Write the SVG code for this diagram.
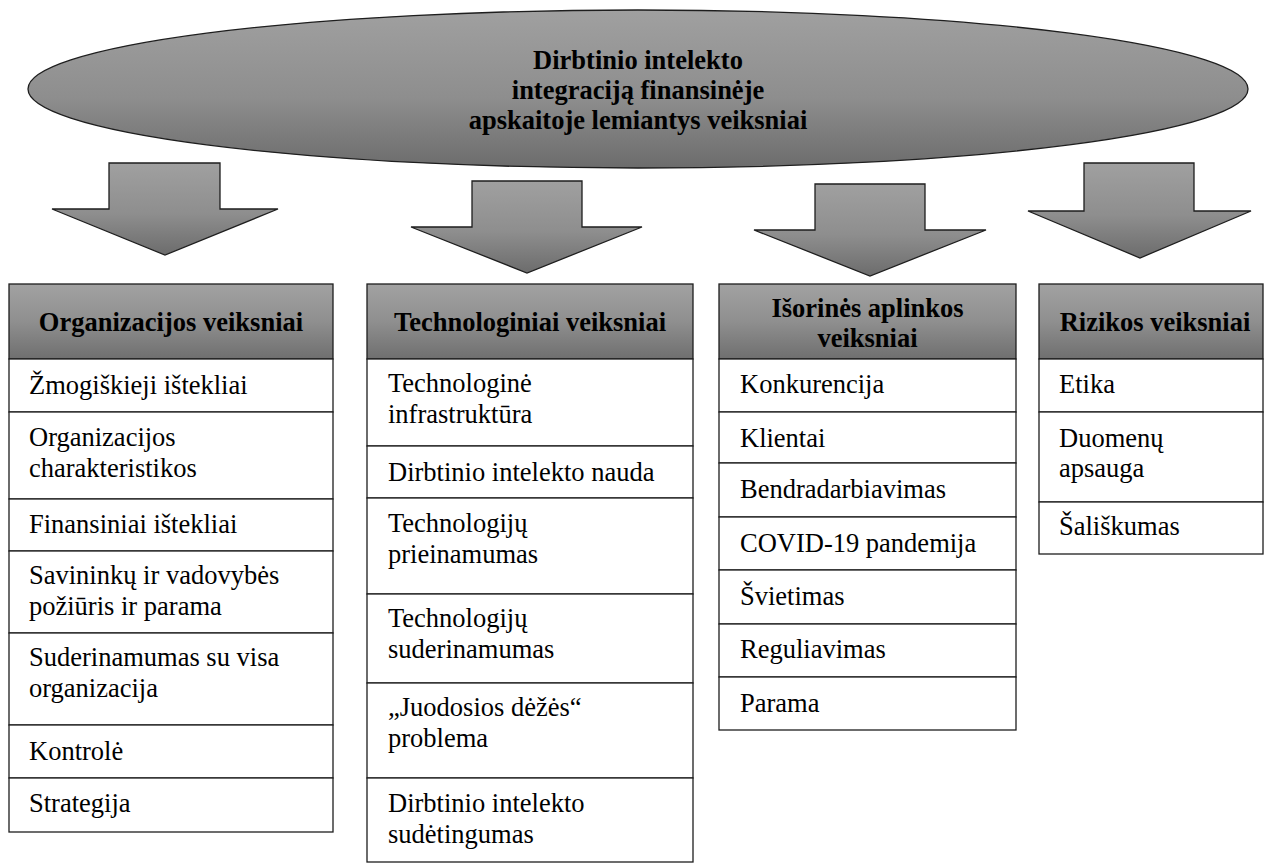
<svg xmlns="http://www.w3.org/2000/svg" width="1264" height="865" viewBox="0 0 1264 865">
<defs>
<linearGradient id="gShape" x1="0" y1="0" x2="0" y2="1">
<stop offset="0" stop-color="#a0a0a0"/>
<stop offset="0.55" stop-color="#8e8e8e"/>
<stop offset="1" stop-color="#6c6c6c"/>
</linearGradient>
<linearGradient id="gHead" x1="0" y1="0" x2="0" y2="1">
<stop offset="0" stop-color="#a2a2a2"/>
<stop offset="0.5" stop-color="#8f8f8f"/>
<stop offset="1" stop-color="#6f6f6f"/>
</linearGradient>
</defs>
<style>
.shape{fill:url(#gShape);stroke:#1e1e1e;stroke-width:1.3}
.head{fill:url(#gHead);stroke:#1e1e1e;stroke-width:1.3}
.cell{fill:#ffffff;stroke:#1e1e1e;stroke-width:1.3}
text{font-family:"Liberation Serif","Times New Roman",serif;font-size:26.5px;fill:#000}
.b{font-weight:bold}
.c{text-anchor:middle}
</style>
<rect width="1264" height="865" fill="#ffffff"/>

<g id="title">
<ellipse class="shape" cx="638" cy="89" rx="610" ry="79"/>
<text class="b c" x="638" y="69">Dirbtinio intelekto</text>
<text class="b c" x="638" y="99">integraciją finansinėje</text>
<text class="b c" x="638" y="129">apskaitoje lemiantys veiksniai</text>
</g>

<g id="connectors">
<polygon class="shape" points="109,163 220,163 220,209 278,209 165,255 52,209 109,209"/>
<polygon class="shape" points="472,181 582,181 582,227 642,227 527,273 411,227 472,227"/>
<polygon class="shape" points="815,184 925,184 925,230 986,230 870,276 754,230 815,230"/>
<polygon class="shape" points="1084,163 1194,163 1194,211 1251,211 1140,258 1028,211 1084,211"/>
</g>

<g id="org">
<rect class="head" x="9" y="284" width="324" height="75"/>
<text class="b c" x="171" y="331">Organizacijos veiksniai</text>
<rect class="cell" x="9" y="359" width="324" height="53"/>
<text x="29" y="394">Žmogiškieji ištekliai</text>
<rect class="cell" x="9" y="412" width="324" height="87"/>
<text x="29" y="446">Organizacijos</text>
<text x="29" y="477">charakteristikos</text>
<rect class="cell" x="9" y="499" width="324" height="52"/>
<text x="29" y="533">Finansiniai ištekliai</text>
<rect class="cell" x="9" y="551" width="324" height="82"/>
<text x="29" y="584">Savininkų ir vadovybės</text>
<text x="29" y="615">požiūris ir parama</text>
<rect class="cell" x="9" y="633" width="324" height="92"/>
<text x="29" y="666">Suderinamumas su visa</text>
<text x="29" y="697">organizacija</text>
<rect class="cell" x="9" y="725" width="324" height="53"/>
<text x="29" y="760">Kontrolė</text>
<rect class="cell" x="9" y="778" width="324" height="54"/>
<text x="29" y="812">Strategija</text>
</g>

<g id="tech">
<rect class="head" x="367" y="284" width="326" height="75"/>
<text class="b c" x="530" y="331">Technologiniai veiksniai</text>
<rect class="cell" x="367" y="359" width="326" height="87"/>
<text x="388" y="392">Technologinė</text>
<text x="388" y="423">infrastruktūra</text>
<rect class="cell" x="367" y="446" width="326" height="52"/>
<text x="388" y="481">Dirbtinio intelekto nauda</text>
<rect class="cell" x="367" y="498" width="326" height="96"/>
<text x="388" y="532">Technologijų</text>
<text x="388" y="563">prieinamumas</text>
<rect class="cell" x="367" y="594" width="326" height="89"/>
<text x="388" y="627">Technologijų</text>
<text x="388" y="658">suderinamumas</text>
<rect class="cell" x="367" y="683" width="326" height="95"/>
<text x="388" y="716">„Juodosios dėžės“</text>
<text x="388" y="747">problema</text>
<rect class="cell" x="367" y="778" width="326" height="84"/>
<text x="388" y="812">Dirbtinio intelekto</text>
<text x="388" y="843">sudėtingumas</text>
</g>

<g id="external">
<rect class="head" x="719" y="284" width="297" height="75"/>
<text class="b c" x="867.5" y="317">Išorinės aplinkos</text>
<text class="b c" x="867.5" y="347">veiksniai</text>
<rect class="cell" x="719" y="359" width="297" height="53"/>
<text x="740" y="393">Konkurencija</text>
<rect class="cell" x="719" y="412" width="297" height="51"/>
<text x="740" y="447">Klientai</text>
<rect class="cell" x="719" y="463" width="297" height="54"/>
<text x="740" y="498">Bendradarbiavimas</text>
<rect class="cell" x="719" y="517" width="297" height="53"/>
<text x="740" y="552">COVID-19 pandemija</text>
<rect class="cell" x="719" y="570" width="297" height="54"/>
<text x="740" y="605">Švietimas</text>
<rect class="cell" x="719" y="624" width="297" height="53"/>
<text x="740" y="658">Reguliavimas</text>
<rect class="cell" x="719" y="677" width="297" height="53"/>
<text x="740" y="712">Parama</text>
</g>

<g id="risk">
<rect class="head" x="1039" y="284" width="224" height="75"/>
<text class="b c" x="1155" y="331">Rizikos veiksniai</text>
<rect class="cell" x="1039" y="359" width="224" height="53"/>
<text x="1059" y="393">Etika</text>
<rect class="cell" x="1039" y="412" width="224" height="90"/>
<text x="1059" y="447">Duomenų</text>
<text x="1059" y="477">apsauga</text>
<rect class="cell" x="1039" y="502" width="224" height="52"/>
<text x="1059" y="535">Šališkumas</text>
</g>
</svg>
